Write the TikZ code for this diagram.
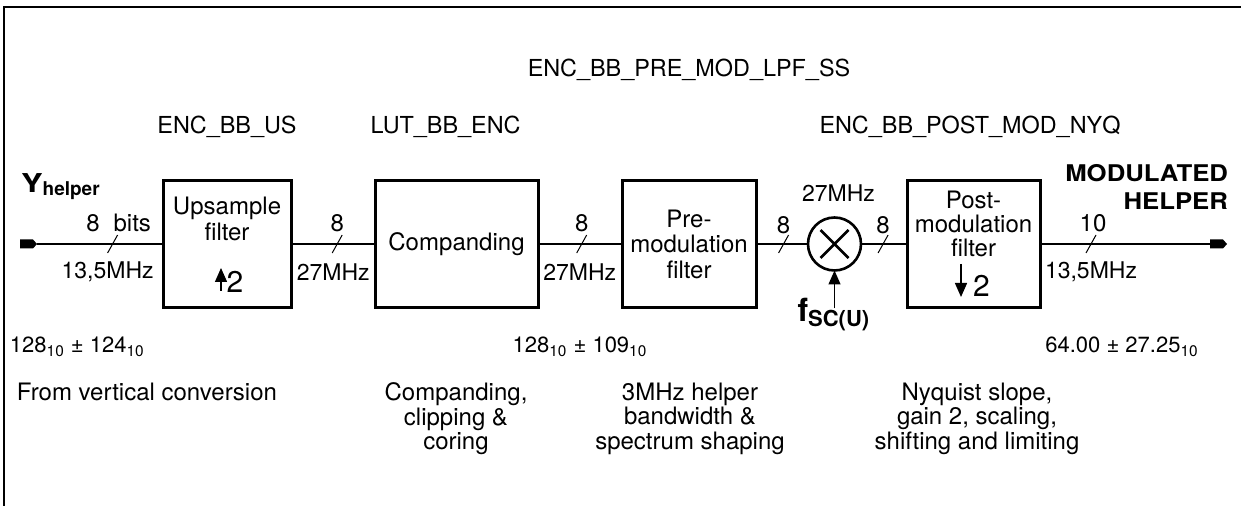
\documentclass[tikz,border=0pt]{standalone}
\usepackage{fontspec}
\setmainfont{TeX Gyre Heros}
\usetikzlibrary{positioning,arrows.meta,calc}
\def\boxH{63.5pt}
\def\boxLW{1.5pt}
\def\wireLW{0.7pt}
\def\titleY{23.5pt}
\newcommand\sz[2]{\fontsize{#1}{#2}\selectfont}
\tikzset
{
  Terminal/.pic =
  {
    \fill (0,-4.5) -- (13,-4.5) -- (17,0) -- (13,4.5) -- (0,4.5) -- cycle ;
    \coordinate (-tip) at (17,0);
    \coordinate (-base) at (0,0);
  },
  Slash/.pic =
  {
    \draw [line width=0.5pt] (-5,9) -- (5,-9) ;
  },
  Block/.style=
  {
    draw,
    line width=\boxLW,
    minimum height=\boxH,
    font=\sz{12}{12.75},
  },
  Wire/.style={line width=\wireLW},
  Feed/.style=
  {
    line width=\wireLW,
    -{Triangle[length=7pt,width=6pt]},
  },
  TopLbl/.style={yshift=10.5pt, font=\sz{12}{13}},
  BotLbl/.style={yshift=-14pt, font=\sz{11.5}{13}},
  Title/.style={anchor=base, font=\sz{11.7}{14}},
  Value/.style={font=\sz{11}{13}},
  Note/.style={anchor=north, font=\sz{12}{12.25}},
}

\begin{document}
\begin{tikzpicture}
[
  x=0.5pt, y=-0.5pt, % one unit per pixel of the sheet, y going down
  every node/.style={align=center, inner sep=1pt, outer sep=0pt},
]
\useasboundingbox (0,0) rectangle (1241,506);
\draw [line width=0.8pt] (4,506) -- (4,7) -- (1241,7);

% blocks
\node (upFilter) [Block, minimum width=64pt] at (227,244) {};
\node (compand) [Block, minimum width=81.5pt, right=42pt of upFilter] {Companding};
\node (preMod) [Block, minimum width=67pt, right=42pt of compand] {Pre-\\modulation\\filter};
\node (mixer) [draw, circle, line width=1.3pt, minimum size=26.5pt, right=26pt of preMod] {};
\node (postMod) [Block, minimum width=66.5pt, right=23pt of mixer] {};

\node [font=\sz{12}{13}] at ($(upFilter)+(0,-25)$) {Upsample\\filter};
\draw [Feed] ($(upFilter)+(-6,47)$) -- ($(upFilter)+(-6,24)$);
\node [font=\sz{15}{15}] at ($(upFilter)+(8,38)$) {2};

\node [font=\sz{12}{12}] at ($(postMod)+(0,-20)$) {Post-\\modulation\\filter};
\draw [Feed] ($(postMod)+(-12.5,20)$) -- ($(postMod)+(-12.5,53)$);
\node [font=\sz{15}{15}] at ($(postMod)+(8,42)$) {2};

\draw [line width=1.3pt] ($(mixer)+(-14,-14)$) -- ($(mixer)+(14,14)$)
  ($(mixer)+(-14,14)$) -- ($(mixer)+(14,-14)$);

% titles
\node [Title] at ([yshift=52pt]preMod.north) {ENC\_BB\_PRE\_MOD\_LPF\_SS};
\node [Title] at ([yshift=\titleY]upFilter.north) {ENC\_BB\_US};
\node [Title] at ([xshift=-5.5pt,yshift=\titleY]compand.north) {LUT\_BB\_ENC};
\node [Title] at ([xshift=-1.75pt,yshift=\titleY]postMod.north) {ENC\_BB\_POST\_MOD\_NYQ};

% signal path
\pic (inT) at (20,244) {Terminal};
\pic (outT) at (1210,244) {Terminal};
\node (yIn) [anchor=base west] at (19,193)
  {\bfseries{\sz{13}{14}\addfontfeature{FakeStretch=1.25}Y}\raisebox{-1.5pt}{\sz{9.5}{10}helper}};
\node (modOut) [anchor=north east, align=right, font={\bfseries\sz{11.5}{14}\addfontfeature{FakeStretch=1.12}}] at (1230,162) {MODULATED\\HELPER};

\draw [Wire] (inT-tip) -- coordinate[pos=.6] (s1) (upFilter)
  node [pos=.6, TopLbl, xshift=3pt] {8\hspace{7pt}bits}
  node [pos=.6, BotLbl, xshift=-2.5pt] {13,5MHz};
\draw [Wire] (upFilter) -- coordinate[pos=.55] (s2) (compand)
  node [pos=.55, TopLbl] {8}
  node [pos=.55, BotLbl, xshift=-2pt] {27MHz};
\draw [Wire] (compand) -- coordinate[pos=.52] (s3) (preMod)
  node [pos=.52, TopLbl] {8}
  node [pos=.52, BotLbl, xshift=-1pt] {27MHz};
\draw [Wire] (preMod) -- coordinate[pos=.53] (s4) (mixer)
  node [pos=.53, TopLbl, yshift=-1pt] {8};
\draw [Wire] (mixer) -- coordinate[pos=.48] (s5) (postMod)
  node [pos=.48, TopLbl, yshift=-1pt] {8};
\draw [Wire] (postMod) -- coordinate[pos=.3] (s6) (outT-base)
  node [pos=.3, TopLbl, xshift=1pt] {10}
  node [pos=.3, BotLbl] {13,5MHz};
\foreach \s in {s1,s2,s3,s4,s5,s6}
  \pic at (\s) {Slash};

% sub-carrier
\node (mixRate) [font=\sz{11.5}{13}, above=7pt of mixer, xshift=2pt] {27MHz};
\coordinate (fsc) at ([yshift=-19pt]mixer.south);
\draw [Feed] (fsc) -- (mixer);
\node (fscLbl) [anchor=base west] at ($(fsc)+(-39,13.5)$)
  {\bfseries\sz{16}{16}f\raisebox{-2.5pt}{\sz{11}{11}SC(U)}};

% ranges and notes
\node (valIn) [Value, anchor=west] at (8,347) {128\textsubscript{10} ± 124\textsubscript{10}};
\node (valMid) [Value] at (580,347) {128\textsubscript{10} ± 109\textsubscript{10}};
\node (valOut) [Value] at (1122,347) {64.00 ± 27.25\textsubscript{10}};

\node (noteIn) [Note, anchor=north west] at (15,381) {From vertical conversion};
\node (noteComp) [Note] at (456,381) {Companding,\\clipping \&\\coring};
\node (notePre) [Note] at (690,381) {3MHz helper\\bandwidth \&\\spectrum shaping};
\node (notePost) [Note] at (977,381) {Nyquist slope,\\gain 2, scaling,\\shifting and limiting};
\end{tikzpicture}
\end{document}
